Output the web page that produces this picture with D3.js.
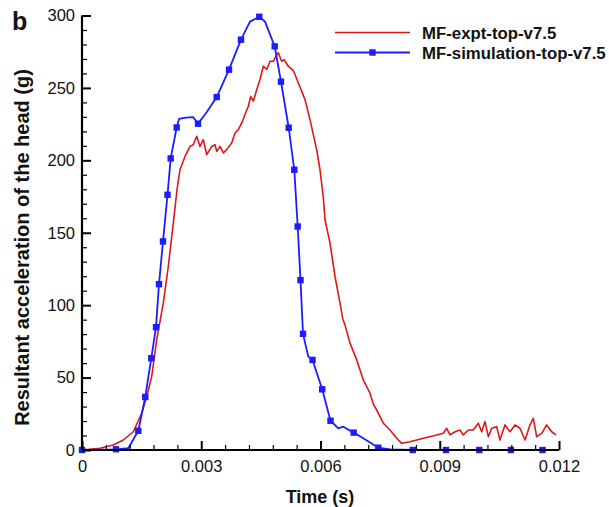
<!DOCTYPE html>
<html>
<head>
<meta charset="utf-8">
<script src="https://cdn.jsdelivr.net/npm/d3@7"></script>
<style>
  html, body { margin: 0; padding: 0; background: #fff; }
  svg { display: block; }
  text { font-family: "Liberation Sans", Arial, sans-serif; fill: #111; }
</style>
</head>
<body>
<svg id="chart" width="609" height="507"></svg>
<script>
// ---- data (time in seconds, acceleration in g) ----
const exptTime = [0, 0.000453, 0.000787, 0.001039, 0.001291, 0.001502, 0.001628, 0.001753, 0.001879, 0.002045,
  0.002171, 0.002297, 0.002390, 0.002465, 0.002591, 0.002717, 0.002800, 0.002886, 0.002969, 0.003052,
  0.003137, 0.003263, 0.003346, 0.003389, 0.003472, 0.003555, 0.003640, 0.003766, 0.003849, 0.003932,
  0.004018, 0.004101, 0.004184, 0.004244, 0.004309, 0.004395, 0.004478, 0.004561, 0.004647, 0.004730,
  0.004813, 0.004898, 0.004938, 0.005024, 0.005082, 0.005190, 0.005316, 0.005484, 0.005610, 0.005736,
  0.005819, 0.005904, 0.005987, 0.006071, 0.006113, 0.006239, 0.006365, 0.006491, 0.006560, 0.006616, 0.006742,
  0.006911, 0.007077, 0.007245, 0.007330, 0.007414, 0.007580, 0.007748, 0.007917, 0.008043, 0.008251, 0.008420,
  0.008586, 0.008755, 0.008923, 0.009089, 0.009175, 0.009258, 0.009384, 0.009509, 0.009592, 0.009718,
  0.009844, 0.009970, 0.010055, 0.010138, 0.010221, 0.010307, 0.010432, 0.010516, 0.010641, 0.010767,
  0.010893, 0.011019, 0.011145, 0.011270, 0.011353, 0.011439, 0.011565, 0.011690, 0.011816, 0.011924];
const exptValue = [0, 1.2, 3.5, 6.9, 12.6, 25.4, 36.8, 50.7, 76.0, 101.4,
  126.7, 156.7, 179.7, 193.5, 202.7, 209.6, 210.8, 216.6, 209.6, 214.3,
  203.9, 209.6, 210.8, 206.2, 209.6, 205.1, 207.4, 212.0, 218.9, 221.2,
  225.8, 231.6, 237.3, 244.2, 240.8, 248.8, 255.8, 265.0, 262.7, 268.4,
  268.4, 273.0, 274.2, 268.4, 269.6, 265.0, 262.0, 250.6, 241.9, 228.1,
  217.7, 207.4, 193.5, 174.2, 159.0, 142.9, 119.8, 101.4, 90.5, 86.4, 73.8,
  62.2, 48.4, 39.2, 31.5, 27.6, 18.5, 13.8, 8.1, 4.6, 5.7, 6.9,
  8.1, 9.2, 10.4, 11.5, 15.0, 10.4, 12.6, 13.8, 10.4, 13.8,
  13.8, 18.5, 12.6, 19.6, 9.2, 15.0, 16.1, 6.9, 17.3, 12.6,
  17.3, 15.0, 6.9, 17.3, 21.9, 9.2, 11.5, 17.3, 12.6, 10.4];

const simTime = [0, 0.000855, 0.001165, 0.001416, 0.001592, 0.001743, 0.001862, 0.001937, 0.002038, 0.002151,
  0.002231, 0.002382, 0.002440, 0.002616, 0.002800, 0.002918, 0.003145, 0.003389, 0.003698, 0.004000,
  0.004226, 0.004460, 0.004604, 0.004848, 0.005006, 0.005200, 0.005341, 0.005426, 0.005497, 0.005560,
  0.005693, 0.005799, 0.006043, 0.006252, 0.006448, 0.006574, 0.006835, 0.007077, 0.007454, 0.007748,
  0.008320, 0.009157, 0.009995, 0.010792, 0.011585];
const simValue = [0, 0.5, 1.2, 13.3, 36.6, 63.4, 84.8, 114.5, 144.0, 176.2,
  201.3, 222.7, 228.6, 229.5, 229.8, 225.3, 233.6, 243.7, 262.6, 283.3,
  295.8, 299.1, 295.8, 278.7, 254.3, 222.5, 193.5, 154.3, 117.3, 80.2,
  64.5, 62.2, 41.9, 20.2, 15.0, 16.1, 12.0, 8.1, 1.6, 0.5,
  0, 0, 0, 0, 0];
// indices of simulation points that carry a square symbol
const simSymbolIdx = [0, 1, 3, 4, 5, 6, 7, 8, 9, 10, 11, 15, 17, 18, 19, 21, 23, 24, 25, 26, 27, 28, 29,
  31, 32, 33, 36, 38, 40, 41, 42, 43, 44];

const seriesNames = ["MF-expt-top-v7.5", "MF-simulation-top-v7.5"];
const xTicks = [0, 0.003, 0.006, 0.009, 0.012];
const yTicks = [0, 50, 100, 150, 200, 250, 300];
const xLabel = "Time (s)";
const yLabel = "Resultant acceleration of the head (g)";
const panelLabel = "b";

// ---- layout ----
const RED = "#e0161c", BLUE = "#1c1cff";
const svg = d3.select("#chart");
const x = d3.scaleLinear().domain([0, 0.012]).range([82, 559]);
const y = d3.scaleLinear().domain([0, 300]).range([450, 15.5]);

const exptData = exptTime.map((t, i) => ({t, v: exptValue[i]}));
const simData = simTime.map((t, i) => ({t, v: simValue[i]}));

const line = d3.line().x(d => x(d.t)).y(d => y(d.v));

// curves
svg.append("path").datum(exptData).attr("d", line)
  .attr("fill", "none").attr("stroke", RED).attr("stroke-width", 1.6).attr("stroke-linejoin", "round");
svg.append("path").datum(simData).attr("d", line)
  .attr("fill", "none").attr("stroke", BLUE).attr("stroke-width", 1.8).attr("stroke-linejoin", "round");
svg.append("g").selectAll("rect").data(simSymbolIdx.map(i => simData[i])).join("rect")
  .attr("x", d => x(d.t) - 3.2).attr("y", d => y(d.v) - 3.2)
  .attr("width", 6.4).attr("height", 6.4).attr("fill", BLUE);

// axes
const fmt = d => d === 0 ? "0" : d3.format(".3f")(d);
const xMinor = d3.range(0, 0.01201, 0.0006).filter(v => !xTicks.some(t => Math.abs(t - v) < 1e-9));
const yMinor = d3.range(0, 301, 10).filter(v => v % 50 !== 0);

const gx = svg.append("g").attr("transform", `translate(0,${y(0)})`);
gx.call(d3.axisBottom(x).tickValues(xMinor).tickSize(-5).tickFormat(""));
gx.call(g => g.selectAll(".tick line").attr("stroke-width", 1.2));
const gx2 = svg.append("g").attr("transform", `translate(0,${y(0)})`)
  .call(d3.axisBottom(x).tickValues(xTicks).tickSize(-9).tickPadding(10).tickFormat(fmt));
gx2.selectAll(".tick line").attr("stroke-width", 2);
gx2.selectAll(".tick text").attr("font-size", 16.5).attr("fill", "#111").attr("font-family", "Liberation Sans, Arial, sans-serif");
gx.select(".domain").remove();
gx2.select(".domain").attr("stroke-width", 2.2).attr("d", `M${x(0)},0H${x(0.012)}`);

const gy = svg.append("g").attr("transform", `translate(${x(0)},0)`);
gy.call(d3.axisLeft(y).tickValues(yMinor).tickSize(-5).tickFormat(""));
gy.selectAll(".tick line").attr("stroke-width", 1.2);
gy.select(".domain").remove();
const gy2 = svg.append("g").attr("transform", `translate(${x(0)},0)`)
  .call(d3.axisLeft(y).tickValues(yTicks).tickSize(-9).tickPadding(7));
gy2.selectAll(".tick line").attr("stroke-width", 2);
gy2.selectAll(".tick text").attr("font-size", 16.5).attr("fill", "#111").attr("font-family", "Liberation Sans, Arial, sans-serif");
gy2.select(".domain").attr("stroke-width", 2.2).attr("d", `M0,${y(0)}V${y(300)}`);

// axis titles
svg.append("text").attr("x", 320).attr("y", 503).attr("text-anchor", "middle")
  .attr("font-size", 18).attr("font-weight", "bold").text(xLabel);
svg.append("text").attr("transform", "translate(29,247.5) rotate(-90)").attr("text-anchor", "middle")
  .attr("font-size", 20).attr("font-weight", "bold").text(yLabel);
svg.append("text").attr("x", 12).attr("y", 30).attr("font-size", 25).attr("font-weight", "bold").text(panelLabel);

// legend
const legY = [32.5, 52.5];
const legColors = [RED, BLUE];
const leg = svg.append("g");
seriesNames.forEach((name, i) => {
  leg.append("line").attr("x1", 335).attr("x2", 410).attr("y1", legY[i]).attr("y2", legY[i])
    .attr("stroke", legColors[i]).attr("stroke-width", i ? 1.8 : 1.6);
  if (i === 1) leg.append("rect").attr("x", 372.5 - 3.2).attr("y", legY[i] - 3.2)
    .attr("width", 6.4).attr("height", 6.4).attr("fill", BLUE);
  leg.append("text").attr("x", 422).attr("y", legY[i] + 6).attr("font-size", 16.8)
    .attr("font-weight", "bold").text(name);
});
</script>
</body>
</html>
